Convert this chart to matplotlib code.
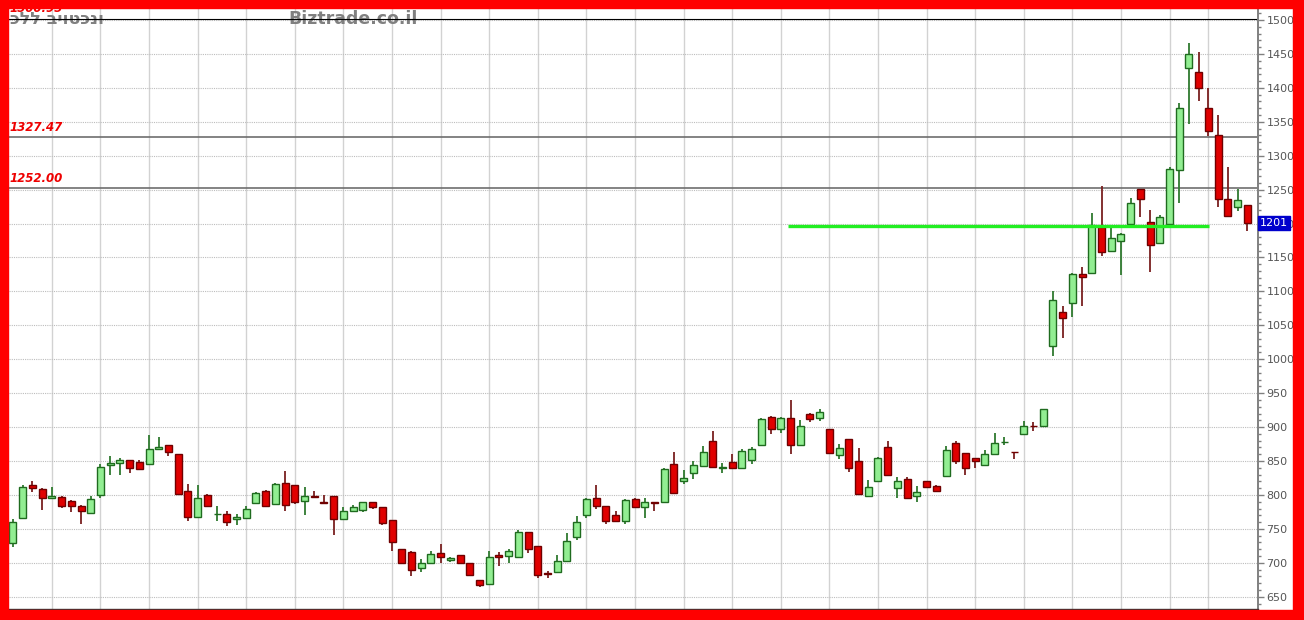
import matplotlib
matplotlib.use('Agg')
import matplotlib.pyplot as plt
import matplotlib.transforms as mtransforms
from matplotlib.ticker import MultipleLocator
import numpy as np

# daily candles (oldest first)
opens = [729, 766, 814, 809, 796, 797, 791, 784, 773, 800,
         844, 847, 851, 848, 845, 868, 873, 860, 806, 768,
         800, 772, 772, 765, 766, 788, 806, 786, 818, 814,
         791, 799, 790, 798, 764, 776, 778, 789, 782, 763,
         721, 716, 692, 699, 714, 704, 711, 699, 675, 669,
         711, 710, 708, 745, 725, 685, 686, 703, 738, 770,
         795, 783, 770, 761, 794, 782, 790, 790, 845, 821,
         833, 843, 880, 840, 849, 840, 851, 874, 915, 897,
         913, 873, 919, 914, 897, 859, 883, 850, 798, 820,
         870, 810, 824, 798, 820, 813, 828, 876, 862, 855,
         844, 860, 878, 864, 890, 902, 901, 1019, 1070, 1083,
         1126, 1127, 1195, 1160, 1175, 1199, 1251, 1203, 1171, 1200,
         1279, 1429, 1423, 1371, 1331, 1236, 1225, 1228]
highs = [765, 815, 820, 810, 811, 798, 792, 785, 798, 845,
         858, 855, 852, 852, 889, 886, 874, 861, 816, 815,
         802, 784, 776, 772, 784, 805, 807, 818, 836, 815,
         811, 806, 800, 799, 782, 785, 790, 790, 782, 763,
         721, 718, 706, 717, 727, 709, 711, 700, 675, 718,
         716, 720, 749, 745, 725, 688, 711, 744, 769, 796,
         815, 784, 776, 794, 795, 795, 790, 839, 863, 837,
         850, 872, 894, 847, 861, 867, 870, 913, 917, 915,
         940, 910, 921, 926, 897, 875, 883, 869, 822, 856,
         880, 827, 826, 813, 820, 814, 872, 880, 862, 855,
         866, 891, 885, 864, 909, 908, 927, 1100, 1079, 1127,
         1136, 1216, 1256, 1197, 1186, 1237, 1251, 1220, 1213, 1284,
         1377, 1466, 1453, 1400, 1360, 1284, 1251, 1228]
lows = [724, 765, 804, 778, 795, 781, 775, 757, 772, 796,
        829, 829, 832, 837, 844, 867, 857, 800, 761, 768,
        782, 761, 754, 756, 765, 787, 783, 786, 777, 786,
        770, 795, 786, 741, 763, 775, 775, 779, 756, 718,
        698, 680, 687, 698, 700, 701, 700, 680, 664, 668,
        696, 700, 708, 715, 678, 678, 685, 702, 733, 766,
        780, 757, 760, 757, 781, 766, 776, 789, 801, 816,
        823, 842, 840, 832, 838, 840, 846, 873, 890, 891,
        861, 872, 907, 909, 861, 853, 834, 800, 797, 819,
        829, 795, 794, 790, 810, 804, 826, 846, 830, 839,
        843, 859, 873, 853, 889, 894, 900, 1005, 1032, 1063,
        1078, 1126, 1152, 1159, 1124, 1198, 1209, 1128, 1170, 1200,
        1230, 1347, 1381, 1329, 1225, 1211, 1218, 1189]
closes = [760, 811, 810, 796, 798, 783, 783, 777, 794, 841,
          847, 851, 840, 838, 867, 871, 863, 802, 768, 795,
          783, 772, 760, 768, 779, 803, 784, 816, 785, 790,
          799, 797, 788, 764, 776, 782, 789, 782, 759, 731,
          700, 690, 699, 713, 708, 707, 700, 682, 668, 709,
          708, 717, 746, 720, 682, 683, 703, 732, 760, 794,
          783, 762, 761, 793, 782, 790, 788, 838, 803, 825,
          844, 864, 841, 841, 840, 865, 867, 912, 897, 913,
          873, 901, 912, 922, 862, 869, 840, 802, 812, 855,
          830, 821, 796, 804, 811, 806, 866, 850, 839, 850,
          860, 876, 878, 863, 901, 901, 927, 1087, 1061, 1126,
          1121, 1198, 1158, 1178, 1184, 1231, 1236, 1169, 1209, 1280,
          1371, 1450, 1400, 1337, 1236, 1211, 1234, 1201]

# candles where a new week starts (vertical grid)
week_starts = [4, 9, 14, 19, 24, 29, 34, 39, 44, 49, 54, 59, 64, 69, 74,
               79, 84, 89, 94, 99, 104, 109, 114, 119, 123]

# levels drawn on the chart
top_level = 1500.95
levels = [1327.47, 1252.00]
support = 1197
support_from, support_to = 79.7, 123.1
last_price = 1201

title_he = 'כלל ביוטכנו'
site = 'Biztrade.co.il'

W, H = 1304, 620
fig = plt.figure(figsize=(W / 100, H / 100), dpi=100, facecolor='white')
ax = fig.add_axes([9 / W, 11 / H, (1258 - 9) / W, (609 - 8) / H])

n = len(opens)
x = np.arange(n)
o = np.array(opens)
c = np.array(closes)
up = c >= o

body_fill = np.where(up, '#92ee92', '#e00000')
body_edge = np.where(up, '#1f6b1f', '#700000')
wick_col = np.where(up, '#2f7a2f', '#7a2020')

ax.vlines(x, lows, highs, colors=wick_col, linewidth=1.3, zorder=2)
ax.bar(x, np.abs(c - o), bottom=np.minimum(o, c), width=0.72,
       color=body_fill, edgecolor=body_edge, linewidth=1.0, zorder=3)

ax.set_xlim(-0.41, 128.1)
ax.set_ylim(631.9, 1517.7)

# grid
ax.yaxis.set_major_locator(MultipleLocator(50))
ax.yaxis.set_minor_locator(MultipleLocator(10))
ax.grid(axis='y', which='major', color='#bdbdbd', linestyle=(0, (1, 1)), linewidth=0.8)
for w in week_starts:
    ax.axvline(w, color='#d2d2d2', linewidth=1.0, zorder=0.5)
ax.set_axisbelow(True)

# horizontal levels
ax.axhline(top_level, color='black', linewidth=0.8, zorder=1)
for lv in levels:
    ax.axhline(lv, color='#6e6e6e', linewidth=1.2, zorder=1)
ax.hlines(support, support_from, support_to, color='#22ee22', linewidth=2.4, zorder=4)

lbl = mtransforms.blended_transform_factory(ax.transAxes, ax.transData)
for lv in levels:
    ax.text(1 / 1249, lv + 5, f'{lv:.2f}', transform=lbl, color='#ee0000',
            fontsize=8.5, fontweight='bold', style='italic', va='bottom', ha='left')
ax.text(1 / 1249, top_level + 6, f'{top_level:.2f}', transform=lbl, color='#ee0000',
        fontsize=8.5, fontweight='bold', style='italic', va='bottom', ha='left')

# watermark header (drawn under the level line)
ax.text(1 / 1249, top_level + 1, title_he, transform=lbl, color='#808080',
        fontsize=12.5, fontweight='bold', va='center', ha='left', family='DejaVu Sans', zorder=0.8)
ax.text(279 / 1249, top_level + 1, site, transform=lbl, color='#808080',
        fontsize=12.5, fontweight='bold', va='center', ha='left', zorder=0.8)

# right price axis
ax.yaxis.tick_right()
ax.tick_params(axis='y', which='major', length=4, width=1, color='#808080',
               labelsize=8, labelcolor='#555555', pad=2)
ax.tick_params(axis='y', which='minor', length=2, width=1, color='#808080')
ax.tick_params(axis='x', bottom=False, labelbottom=False)
for s in ['top', 'left']:
    ax.spines[s].set_visible(False)
ax.spines['right'].set_color('#808080')
ax.spines['right'].set_linewidth(1.4)
ax.spines['bottom'].set_color('#333333')
ax.spines['bottom'].set_linewidth(1.0)

ax.text(1.0015, last_price, str(last_price), transform=lbl, color='white', fontsize=8,
        va='center', ha='left', zorder=6,
        bbox=dict(facecolor='#0000cc', edgecolor='#0000cc', pad=1.2))

# red frame around the whole picture
for (x0, y0, w, h) in [(0, 0, 8, H), (0, 0, W, 8), (1293, 0, W - 1293, H), (0, 610, W, H - 610)]:
    fig.add_artist(plt.Rectangle((x0 / W, 1 - (y0 + h) / H), w / W, h / H,
                                 transform=fig.transFigure, color='#ff0000', zorder=10))

fig.savefig('out.png', dpi=100, facecolor='white')
